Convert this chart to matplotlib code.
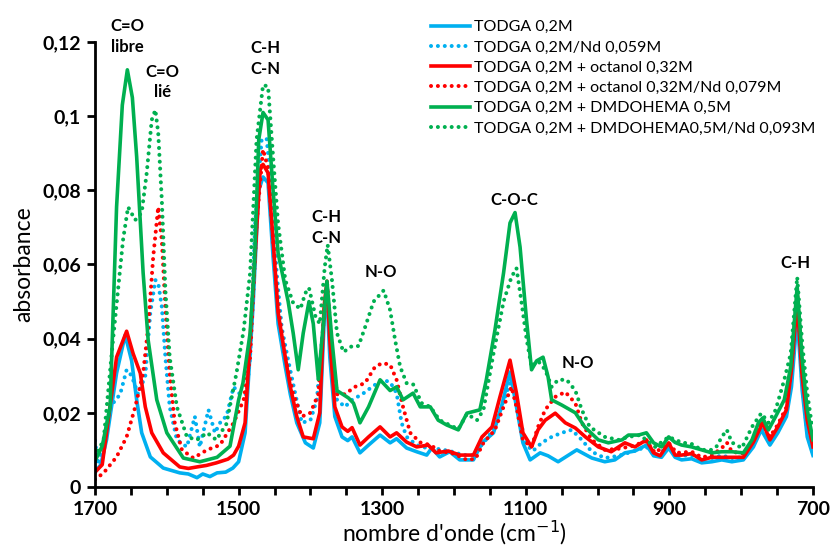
import matplotlib
matplotlib.use('Agg')
import matplotlib.pyplot as plt
from matplotlib.ticker import MultipleLocator, FixedLocator, FuncFormatter

plt.rcParams['font.family'] = ['Lato', 'DejaVu Sans']

# TODGA 0,2M
b_wn = [1700, 1692, 1684, 1670, 1658, 1649, 1642, 1635, 1623, 1605, 1582, 1570, 1558, 1550, 1540, 1530, 1518, 1508, 1500,
        1491, 1480, 1472, 1466, 1459, 1452, 1445, 1435, 1428, 1419, 1407, 1396, 1387, 1380, 1377, 1373, 1366, 1356, 1348,
        1342, 1331, 1319, 1303, 1289, 1280, 1266, 1252, 1238, 1231, 1220, 1206, 1192, 1173, 1161, 1145, 1134, 1122, 1113,
        1104, 1094, 1080, 1069, 1055, 1029, 1008, 990, 976, 962, 948, 932, 922, 911, 901, 892, 883, 869, 855, 841, 827,
        813, 797, 783, 772, 760, 749, 737, 730, 722, 715, 708, 700]
b_ab = [0.004, 0.006, 0.0127, 0.0307, 0.041, 0.034, 0.0235, 0.0146, 0.0081, 0.0051, 0.0038, 0.0035, 0.0025, 0.0035, 0.0028,
        0.0038, 0.004, 0.0051, 0.0068, 0.0146, 0.0486, 0.080, 0.0836, 0.082, 0.062, 0.044, 0.0324, 0.025, 0.0173, 0.0119,
        0.0105, 0.0173, 0.0486, 0.052, 0.035, 0.019, 0.0135, 0.0125, 0.0135, 0.0092, 0.0113, 0.014, 0.0119, 0.013, 0.0105,
        0.0095, 0.0086, 0.0105, 0.0081, 0.0095, 0.0073, 0.0073, 0.0119, 0.0146, 0.0216, 0.031, 0.0216, 0.0119, 0.0073,
        0.0092, 0.0084, 0.0068, 0.010, 0.0078, 0.0068, 0.0073, 0.0092, 0.0097, 0.0113, 0.0084, 0.008, 0.0105, 0.008,
        0.0073, 0.0076, 0.0065, 0.0068, 0.0073, 0.0068, 0.0073, 0.0108, 0.0154, 0.0113, 0.0146, 0.019, 0.027, 0.046,
        0.026, 0.0135, 0.0085]

# TODGA 0,2M/Nd 0,059M
bd_wn = [1700, 1696, 1688, 1679, 1665, 1656, 1649, 1640, 1630, 1623, 1616, 1612, 1607, 1602, 1596, 1586, 1572, 1561, 1554,
         1542, 1533, 1524, 1517, 1507, 1498, 1489, 1484, 1477, 1468, 1461, 1454, 1447, 1440, 1431, 1421, 1412, 1400, 1391,
         1382, 1377, 1370, 1363, 1352, 1342, 1328, 1314, 1300, 1289, 1280, 1273, 1266, 1252, 1238, 1224, 1206, 1187, 1173,
         1159, 1145, 1134, 1122, 1115, 1108, 1099, 1090, 1078, 1064, 1050, 1036, 1022, 1008, 990, 971, 952, 932, 920, 901,
         890, 869, 855, 841, 827, 813, 797, 783, 772, 760, 749, 737, 730, 722, 715, 708, 700]
bd_ab = [0.0125, 0.006, 0.012, 0.0216, 0.025, 0.0316, 0.030, 0.025, 0.030, 0.047, 0.0558, 0.055, 0.0486, 0.035, 0.0216,
         0.0127, 0.0108, 0.019, 0.0108, 0.0208, 0.0146, 0.018, 0.019, 0.027, 0.025, 0.025, 0.035, 0.071, 0.0936, 0.094,
         0.080, 0.0577, 0.043, 0.0342, 0.025, 0.0173, 0.018, 0.0235, 0.044, 0.055, 0.035, 0.0235, 0.0216, 0.0235, 0.025,
         0.027, 0.0289, 0.0283, 0.0253, 0.0173, 0.0135, 0.0113, 0.0105, 0.0103, 0.0097, 0.0086, 0.0086, 0.0119, 0.0154,
         0.0216, 0.028, 0.025, 0.018, 0.0113, 0.0097, 0.0119, 0.0135, 0.0146, 0.0154, 0.0127, 0.0095, 0.0078, 0.0084,
         0.0095, 0.0108, 0.0084, 0.0108, 0.0085, 0.0085, 0.0075, 0.0078, 0.0085, 0.0078, 0.008, 0.0115, 0.016, 0.0122,
         0.0155, 0.020, 0.029, 0.049, 0.028, 0.0145, 0.009]

# TODGA 0,2M + octanol 0,32M
r_wn = [1700, 1690, 1684, 1670, 1656, 1647, 1637, 1630, 1621, 1605, 1582, 1570, 1558, 1545, 1531, 1515, 1507, 1500, 1491,
        1480, 1470, 1466, 1459, 1452, 1445, 1435, 1428, 1419, 1410, 1396, 1387, 1381, 1377, 1373, 1366, 1356, 1348, 1342,
        1331, 1319, 1303, 1289, 1280, 1266, 1252, 1236, 1225, 1208, 1192, 1173, 1161, 1147, 1136, 1122, 1113, 1104, 1092,
        1083, 1073, 1059, 1045, 1031, 1017, 999, 981, 962, 948, 932, 922, 913, 901, 892, 883, 869, 855, 841, 827, 813,
        797, 783, 770, 760, 749, 737, 730, 722, 715, 708, 700]
r_ab = [0.004, 0.006, 0.0146, 0.035, 0.042, 0.036, 0.0307, 0.0216, 0.0146, 0.0092, 0.0054, 0.005, 0.0054, 0.0058, 0.0065,
        0.0075, 0.0086, 0.011, 0.0173, 0.053, 0.0855, 0.087, 0.0847, 0.0666, 0.047, 0.035, 0.027, 0.019, 0.0135, 0.013,
        0.020, 0.0486, 0.0555, 0.0396, 0.0216, 0.0162, 0.015, 0.016, 0.0113, 0.0135, 0.0162, 0.0135, 0.0146, 0.0121,
        0.0108, 0.0113, 0.0092, 0.0097, 0.0086, 0.0086, 0.0135, 0.0162, 0.0243, 0.0342, 0.0253, 0.0146, 0.0108, 0.0154,
        0.018, 0.0199, 0.0173, 0.0159, 0.0135, 0.0108, 0.0095, 0.0119, 0.0108, 0.0127, 0.0092, 0.0084, 0.0119, 0.0086,
        0.0086, 0.009, 0.0073, 0.008, 0.008, 0.008, 0.008, 0.0121, 0.0173, 0.0127, 0.0162, 0.0208, 0.0316, 0.050, 0.0297,
        0.018, 0.0108]

# TODGA 0,2M + octanol 0,32M/Nd 0,079M
rd_wn = [1700, 1688, 1670, 1656, 1644, 1633, 1626, 1619, 1612, 1607, 1602, 1596, 1589, 1579, 1563, 1544, 1526, 1507, 1493,
         1484, 1475, 1466, 1459, 1452, 1445, 1435, 1424, 1412, 1400, 1389, 1382, 1377, 1370, 1363, 1352, 1338, 1324, 1310,
         1300, 1289, 1280, 1271, 1261, 1247, 1233, 1220, 1201, 1182, 1170, 1159, 1143, 1131, 1120, 1113, 1104, 1092, 1083,
         1073, 1059, 1045, 1031, 1022, 1008, 990, 971, 952, 932, 920, 901, 890, 869, 855, 841, 827, 820, 813, 797, 783,
         772, 760, 749, 737, 730, 722, 715, 708, 700]
rd_ab = [0.002, 0.0038, 0.0081, 0.0135, 0.0216, 0.0307, 0.043, 0.062, 0.0755, 0.0666, 0.0486, 0.0307, 0.0173, 0.010,
         0.0078, 0.010, 0.0113, 0.0173, 0.0235, 0.035, 0.071, 0.091, 0.086, 0.0666, 0.0486, 0.035, 0.025, 0.019, 0.020,
         0.025, 0.044, 0.0555, 0.037, 0.025, 0.025, 0.027, 0.028, 0.0324, 0.0334, 0.033, 0.0289, 0.0216, 0.0146, 0.012,
         0.0113, 0.0097, 0.009, 0.0073, 0.0076, 0.0119, 0.0154, 0.0216, 0.027, 0.0216, 0.0127, 0.0108, 0.0162, 0.0208,
         0.0243, 0.0256, 0.0226, 0.0173, 0.0127, 0.010, 0.0103, 0.011, 0.0124, 0.0092, 0.0119, 0.0092, 0.0095, 0.008,
         0.0085, 0.0105, 0.012, 0.0095, 0.009, 0.0125, 0.0178, 0.0135, 0.0168, 0.0215, 0.033, 0.052, 0.031, 0.019, 0.0112]

# TODGA 0,2M + DMDOHEMA 0,5M
g_wn = [1700, 1690, 1679, 1670, 1662, 1655, 1648, 1642, 1633, 1626, 1614, 1600, 1577, 1554, 1530, 1512, 1500, 1494, 1484,
        1478, 1472, 1466, 1459, 1452, 1445, 1431, 1424, 1417, 1410, 1402, 1396, 1389, 1382, 1377, 1370, 1363, 1347, 1340,
        1331, 1319, 1303, 1289, 1280, 1271, 1257, 1247, 1233, 1222, 1210, 1194, 1182, 1164, 1155, 1143, 1131, 1122, 1115,
        1108, 1099, 1092, 1085, 1076, 1069, 1064, 1050, 1031, 1018, 999, 985, 966, 957, 943, 932, 922, 911, 901, 892,
        883, 869, 855, 841, 827, 813, 797, 785, 776, 770, 762, 752, 740, 731, 722, 715, 708, 700]
g_ab = [0.007, 0.011, 0.0216, 0.0755, 0.103, 0.1125, 0.105, 0.089, 0.0577, 0.0396, 0.0235, 0.0146, 0.0078, 0.0068, 0.008,
        0.011, 0.0235, 0.028, 0.0415, 0.06, 0.0936, 0.101, 0.099, 0.080, 0.063, 0.050, 0.0415, 0.0316, 0.0415, 0.050,
        0.044, 0.029, 0.044, 0.0555, 0.0396, 0.026, 0.024, 0.0226, 0.0173, 0.0216, 0.0289, 0.026, 0.027, 0.0235, 0.0253,
        0.0216, 0.0216, 0.018, 0.0167, 0.0154, 0.0199, 0.0208, 0.0289, 0.0423, 0.0577, 0.0712, 0.074, 0.0647, 0.045,
        0.0316, 0.034, 0.035, 0.0297, 0.0235, 0.0221, 0.020, 0.0162, 0.0127, 0.0119, 0.0127, 0.014, 0.014, 0.0146, 0.0119,
        0.0108, 0.0135, 0.012, 0.0113, 0.0108, 0.010, 0.0092, 0.0095, 0.0095, 0.0092, 0.0127, 0.0173, 0.0186, 0.0154,
        0.019, 0.0235, 0.0324, 0.054, 0.0342, 0.0208, 0.0127]

# TODGA 0,2M + DMDOHEMA0,5M/Nd 0,093M
gd_wn = [1700, 1688, 1675, 1661, 1654, 1644, 1635, 1628, 1621, 1616, 1612, 1607, 1602, 1596, 1586, 1572, 1558, 1544, 1531,
         1517, 1503, 1493, 1484, 1475, 1466, 1459, 1452, 1445, 1435, 1424, 1414, 1407, 1402, 1393, 1387, 1380, 1376, 1370,
         1363, 1354, 1342, 1333, 1324, 1312, 1298, 1289, 1282, 1275, 1266, 1257, 1245, 1233, 1220, 1206, 1194, 1182, 1168,
         1159, 1145, 1131, 1120, 1113, 1107, 1099, 1092, 1083, 1073, 1064, 1055, 1043, 1031, 1022, 1011, 990, 971, 957,
         941, 920, 901, 883, 869, 855, 841, 834, 827, 820, 813, 799, 785, 772, 762, 752, 740, 731, 722, 715, 708, 702, 700]
gd_ab = [0.0081, 0.0127, 0.0396, 0.0666, 0.0755, 0.072, 0.074, 0.0847, 0.099, 0.1017, 0.0955, 0.0774, 0.053, 0.035, 0.0216,
         0.0135, 0.0127, 0.0146, 0.0127, 0.017, 0.0307, 0.0423, 0.0577, 0.0936, 0.1084, 0.108, 0.089, 0.071, 0.0558,
         0.0496, 0.048, 0.0523, 0.0537, 0.046, 0.044, 0.0594, 0.0653, 0.0558, 0.0415, 0.0364, 0.038, 0.038, 0.043, 0.050,
         0.053, 0.0477, 0.0396, 0.0324, 0.028, 0.0277, 0.0226, 0.0216, 0.018, 0.0167, 0.0156, 0.0197, 0.018, 0.0208,
         0.036, 0.050, 0.0566, 0.059, 0.0512, 0.040, 0.0324, 0.034, 0.0316, 0.027, 0.0289, 0.0289, 0.026, 0.0208, 0.0162,
         0.0135, 0.0127, 0.0135, 0.014, 0.0108, 0.0135, 0.012, 0.0116, 0.010, 0.010, 0.011, 0.0135, 0.0154, 0.012, 0.0105,
         0.0162, 0.0199, 0.0173, 0.0208, 0.0289, 0.036, 0.0566, 0.0388, 0.0253, 0.0173, 0.016]

labels = ['TODGA 0,2M', 'TODGA 0,2M/Nd 0,059M', 'TODGA 0,2M + octanol 0,32M',
          'TODGA 0,2M + octanol 0,32M/Nd 0,079M', 'TODGA 0,2M + DMDOHEMA 0,5M',
          'TODGA 0,2M + DMDOHEMA0,5M/Nd 0,093M']
xticks = [1700, 1500, 1300, 1100, 900, 700]

# peak labels: text, wavenumber, absorbance of text centre
notes = [('C=O\nlibre', 1655, 0.1215), ('C=O\nlié', 1606, 0.1092), ('C-H\nC-N', 1462, 0.1155),
         ('C-H\nC-N', 1377, 0.0700), ('N-O', 1302, 0.0580), ('C-O-C', 1116, 0.0773),
         ('N-O', 1027, 0.0335), ('C-H', 725, 0.0605)]

blue, red, green = '#00B0F0', '#FF0000', '#00B050'
dots = (0, (0.01, 1.7))

fig = plt.figure(figsize=(8.3, 5.49), dpi=100)
ax = fig.add_axes([0.1145, 0.113, 0.865, 0.8105])

series = [(b_wn, b_ab, blue, '-'), (bd_wn, bd_ab, blue, dots), (r_wn, r_ab, red, '-'),
          (rd_wn, rd_ab, red, dots), (g_wn, g_ab, green, '-'), (gd_wn, gd_ab, green, dots)]
for (x, y, c, ls), lab in zip(series, labels):
    if ls == '-':
        ax.plot(x, y, color=c, lw=2.6, ls=ls, label=lab, solid_joinstyle='round')
    else:
        ax.plot(x, y, color=c, lw=2.9, ls=ls, label=lab, dash_capstyle='round')

for txt, xw, ya in notes:
    ax.text(xw, ya, txt, ha='center', va='center', fontsize=12, fontweight='bold',
            linespacing=1.35, clip_on=False)

ax.set_xlim(1700, 700)
ax.set_ylim(0, 0.12)
ax.xaxis.set_major_locator(FixedLocator(xticks))
ax.xaxis.set_minor_locator(MultipleLocator(50))
ax.yaxis.set_major_locator(MultipleLocator(0.02))
ax.yaxis.set_major_formatter(FuncFormatter(lambda v, p: ('%g' % round(v, 2)).replace('.', ',')))

for s in ['top', 'right']:
    ax.spines[s].set_visible(False)
for s in ['left', 'bottom']:
    ax.spines[s].set_linewidth(2)
ax.tick_params(which='both', direction='out', length=6, width=2, color='black')
ax.tick_params(which='major', labelsize=14, pad=4)
for t in ax.get_xticklabels() + ax.get_yticklabels():
    t.set_fontweight('bold')

ax.set_xlabel("nombre d'onde (cm$^{-1}$)", fontsize=16.5, labelpad=1)
ax.set_ylabel('absorbance', fontsize=16.5, labelpad=6)

fig.legend(loc='upper left', bbox_to_anchor=(0.512, 0.975), frameon=False, fontsize=11.5,
           handlelength=2.4, handletextpad=0.25, labelspacing=0.38, borderaxespad=0)

fig.savefig('out.png', dpi=100)
